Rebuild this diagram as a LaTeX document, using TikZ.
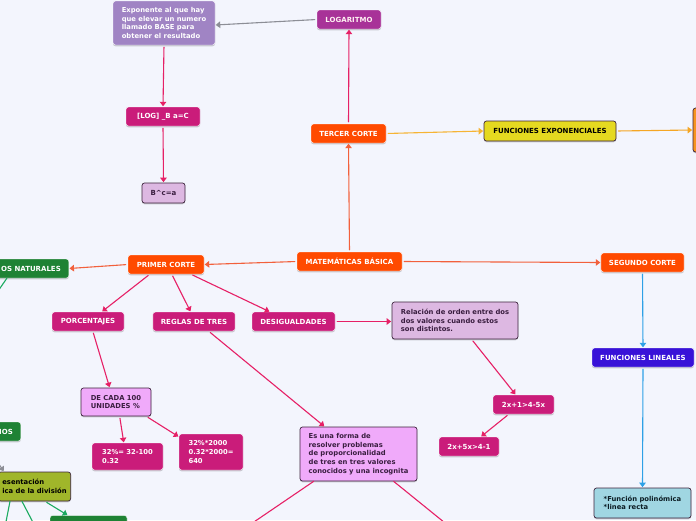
\documentclass[tikz,border=0pt]{standalone}
\usepackage{fontspec}
\setmainfont{DejaVu Sans}
\usetikzlibrary{arrows.meta,shadows}
\begin{document}
\begin{tikzpicture}[x=1pt, y=-1pt, line cap=round, line join=round,
  base/.style={rounded corners=2.5pt, inner ysep=0pt, inner xsep=8pt, minimum height=19pt,
    font=\bfseries\fontsize{7}{8.6}\selectfont,
    drop shadow={shadow xshift=0pt, shadow yshift=-1.3pt, fill=black, opacity=0.18}},
  darkbox/.style={base, fill=#1, draw=white, thin, text=white},
  lightbox/.style={base, fill=#1, draw=boxline, line width=0.7pt, text=boxtext},
  para/.style={align=left, font=\bfseries\fontsize{6.8}{8.6}\selectfont},
  link/.style={line width=1.1pt, draw=#1, -{Triangle[length=4.5pt,width=6.5pt]}, shorten <=2pt, shorten >=0.5pt},
  plain/.style={line width=1.1pt, draw=#1}]
  \definecolor{bgcol}{RGB}{243,245,253}
  \definecolor{orred}{RGB}{255,74,0}
  \definecolor{pinkc}{RGB}{202,28,122}
  \definecolor{logcol}{RGB}{168,50,152}
  \definecolor{expocol}{RGB}{160,132,196}
  \definecolor{lilac}{RGB}{221,184,226}
  \definecolor{violet}{RGB}{240,170,250}
  \definecolor{yellowc}{RGB}{229,217,32}
  \definecolor{orangec}{RGB}{247,148,30}
  \definecolor{greenc}{RGB}{30,130,52}
  \definecolor{olivec}{RGB}{160,182,42}
  \definecolor{indigoc}{RGB}{56,18,216}
  \definecolor{cyanc}{RGB}{160,214,226}
  \definecolor{boxline}{RGB}{60,35,60}
  \definecolor{boxtext}{RGB}{58,30,64}
  \definecolor{oredge}{RGB}{242,96,60}
  \definecolor{pinkedge}{RGB}{230,32,102}
  \definecolor{grayedge}{RGB}{140,142,150}
  \definecolor{yedge}{RGB}{246,180,52}
  \definecolor{oyedge}{RGB}{245,166,36}
  \definecolor{blueedge}{RGB}{46,160,230}
  \definecolor{greenedge}{RGB}{26,170,96}

  \useasboundingbox (0,0) rectangle (696,520);
  \fill[bgcol] (0,0) rectangle (696,520);
  \clip (0,0) rectangle (696,520);

  \node[darkbox=orred, minimum width=105pt] (mat) at (349.5,261.5) {MATEMÁTICAS BÁSICA};
  \node[darkbox=orred, minimum width=76pt] (primer) at (166,264.5) {PRIMER CORTE};
  \node[darkbox=orred, minimum width=83pt] (segundo) at (642.5,262.5) {SEGUNDO CORTE};
  \node[darkbox=orred, minimum width=75pt] (tercer) at (348.5,133.5) {TERCER CORTE};

  \node[darkbox=logcol, minimum width=64pt, text=white!80!pink] (logaritmo) at (349,19.5) {LOGARITMO};
  \node[darkbox=expocol, para, minimum width=102pt, minimum height=44pt] (expo) at (164,23)
    {Exponente al que hay\\que elevar un numero\\llamado BASE para\\obtener el resultado};
  \node[darkbox=pinkc, minimum width=74pt] (logb) at (163,116.5) {[LOG] \_B a=C};
  \node[lightbox=lilac, minimum width=43pt, minimum height=20pt] (bca) at (163.5,193) {B\^{}c=a};

  \node[lightbox=yellowc, minimum width=132pt, minimum height=20pt, text=black] (funcexp) at (550,131) {FUNCIONES EXPONENCIALES};
  \node[lightbox=orangec, minimum width=70pt, minimum height=44pt] (orangebox) at (728,130) {};

  \node[darkbox=greenc, anchor=east] (naturales) at (69,268.5) {OS NATURALES};
  \node[darkbox=pinkc, minimum width=72pt] (porcentajes) at (88,321.5) {PORCENTAJES};
  \node[darkbox=pinkc, minimum width=82pt] (reglas) at (194,321.5) {REGLAS DE TRES};
  \node[darkbox=pinkc, minimum width=83pt] (desig) at (293.5,321.5) {DESIGUALDADES};
  \node[lightbox=lilac, para, minimum width=126pt, minimum height=37pt] (relacion) at (455,320.5)
    {Relación de orden entre dos\\dos valores cuando estos\\son distintos.};
  \node[darkbox=pinkc, minimum width=61pt] (ineqa) at (523.5,404.5) {2x+1>4-5x};
  \node[darkbox=pinkc, minimum width=60pt] (ineqb) at (469,446.5) {2x+5x>4-1};

  \node[lightbox=violet, para, minimum width=70pt, minimum height=28pt] (decada) at (116,402) {DE CADA 100\\UNIDADES \%};
  \node[darkbox=pinkc, para, minimum width=71pt, minimum height=27pt, inner xsep=7pt] (pcta) at (127.5,456.5) {32\%= 32-100\\0.32};
  \node[darkbox=pinkc, para, minimum width=64pt, minimum height=36pt, inner xsep=6pt] (pctb) at (211,452) {32\%*2000\\0.32*2000=\\640};
  \node[lightbox=violet, para, minimum width=117pt, minimum height=54pt, inner xsep=6pt] (esuna) at (358.5,454)
    {Es una forma de\\resolver problemas\\de proporcionalidad\\de tres en tres valores\\conocidos y una incognita};

  \node[darkbox=indigoc, minimum width=102pt] (funclin) at (643,357.5) {FUNCIONES LINEALES};
  \node[lightbox=cyanc, para, minimum width=97pt, minimum height=30pt, text=boxtext!70!cyan!30!black] (funcpol) at (642.5,503)
    {*Función polinómica\\*linea recta};

  \node[darkbox=greenc, anchor=east] (ios) at (21,431.5) {IOS};
  \node[lightbox=olivec, para, anchor=east, minimum height=29pt, inner xsep=4pt, text=black] (olive) at (71,486.5)
    {esentación\\ica de la división};
  \node[darkbox=greenc, minimum width=77pt] (greenlow) at (88.5,525) {};

  \coordinate (natout) at (-4,294);
  \coordinate (iosout) at (-8,454);
  \coordinate (oliveouta) at (4,532);
  \coordinate (oliveoutb) at (38,532);
  \coordinate (esouta) at (248,526);
  \coordinate (esoutb) at (450,527);

  \draw[link=grayedge] (logaritmo.west) -- ([yshift=-2pt]expo.east);
  \draw[link=pinkedge] (expo.south) -- (logb.north);
  \draw[link=pinkedge] (logb.south) -- (bca.north);
  \draw[link=pinkedge] (tercer.north) -- (logaritmo.south);
  \draw[link=oredge] (mat.north) -- (tercer.south);
  \draw[link=yedge] (tercer.east) -- (funcexp.west);
  \draw[link=oyedge] (funcexp.east) -- (orangebox.west);
  \draw[link=oredge] (mat.west) -- (primer.east);
  \draw[link=oredge] (mat.east) -- (segundo.west);
  \draw[link=oredge] (primer.west) -- (naturales.east);
  \draw[plain=greenedge] ([xshift=14pt]naturales.south west) -- (natout);
  \draw[link=pinkedge] ([xshift=22pt]primer.south west) -- ([xshift=50pt]porcentajes.north west);
  \draw[link=pinkedge] ([xshift=44pt]primer.south west) -- ([xshift=38pt]reglas.north west);
  \draw[link=pinkedge] ([xshift=63pt]primer.south west) -- ([xshift=18pt]desig.north west);
  \draw[link=pinkedge] (desig.east) -- (relacion.west |- desig.east);
  \draw[link=pinkedge] ([xshift=80pt]relacion.south west) -- ([xshift=23pt]ineqa.north west);
  \draw[link=pinkedge] ([xshift=16pt]ineqa.south west) -- ([xshift=42pt]ineqb.north west);
  \draw[link=pinkedge] ([xshift=41pt]porcentajes.south west) -- ([xshift=29pt]decada.north west);
  \draw[link=pinkedge] ([xshift=39pt]decada.south west) -- ([xshift=32pt]pcta.north west);
  \draw[link=pinkedge] ([xshift=-5pt]decada.south east) -- ([yshift=-3pt]pctb.north west);
  \draw[link=pinkedge] ([xshift=56pt]reglas.south west) -- ([xshift=25pt]esuna.north west);
  \draw[plain=pinkedge] ([xshift=14pt]esuna.south west) -- (esouta);
  \draw[plain=pinkedge] ([xshift=94pt]esuna.south west) -- (esoutb);
  \draw[link=blueedge] (segundo.south) -- (funclin.north);
  \draw[link=blueedge] (funclin.south) -- (funcpol.north);
  \draw[link=grayedge] (iosout) -- ([xshift=6pt]olive.north west);
  \draw[plain=greenedge] ([xshift=12pt]olive.south west) -- (oliveouta);
  \draw[plain=greenedge] ([xshift=24pt]olive.south west) -- (oliveoutb);
  \draw[link=greenedge] ([xshift=47pt]olive.south west) -- ([xshift=18pt]greenlow.north west);
\end{tikzpicture}
\end{document}
